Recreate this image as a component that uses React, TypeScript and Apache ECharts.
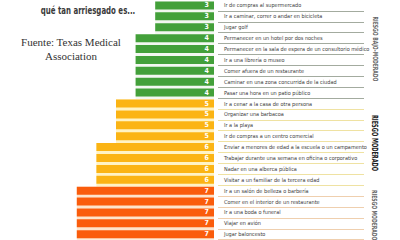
import React, { useEffect, useRef } from "react";
import * as echarts from "echarts";

const categories = [
  "Ir de compras al supermercado",
  "Ir a caminar, correr o andar en bicicleta",
  "Jugar golf",
  "Permanecer en un hotel por dos noches",
  "Permanecer en la sala de espera de un consultorio médico",
  "Ir a una librería o museo",
  "Comer afuera de un restaurante",
  "Caminar en una zona concurrida de la ciudad",
  "Pasar una hora en un patio público",
  "Ir a cenar a la casa de otra persona",
  "Organizar una barbacoa",
  "Ir a la playa",
  "Ir de compras a un centro comercial",
  "Enviar a menores de edad a la escuela o un campamento",
  "Trabajar durante una semana en oficina o corporativo",
  "Nadar en una alberca pública",
  "Visitar a un familiar de la tercera edad",
  "Ir a un salón de belleza o barbería",
  "Comer en el interior de un restaurante",
  "Ir a una boda o funeral",
  "Viajar en avión",
  "Jugar baloncesto",
];

const riskValues = [3, 3, 3, 4, 4, 4, 4, 4, 4, 5, 5, 5, 5, 6, 6, 6, 6, 7, 7, 7, 7, 7];

const bandTitles = ["RIESGO BAJO-MODERADO", "RIESGO MODERADO", "RIESGO MODERADO-ALTO"];

const NARROW = '"Liberation Sans Narrow", "DejaVu Sans Condensed", sans-serif';

function barColor(v: number) {
  if (v <= 4) return "#43a03a";
  if (v <= 6) return "#fbb414";
  return "#fa5c0c";
}
function gapColor(v: number) {
  if (v <= 4) return "#f3f7f1";
  if (v <= 6) return "#fff3c4";
  return "#fde4cc";
}
function lineColor(v: number) {
  if (v <= 4) return "#a3ab9f";
  if (v <= 6) return "#efe2a2";
  return "#efcfae";
}

export default function App() {
  const ref = useRef<HTMLDivElement>(null);
  useEffect(() => {
    if (!ref.current) return;
    const chart = echarts.init(ref.current, undefined, { renderer: "svg" });
    const top = -4.5;
    const height = 244.2;
    const splitColors = ["#ffffff", ...riskValues.map(lineColor)];
    chart.setOption({
      animation: false,
      backgroundColor: "#ffffff",
      grid: [
        { left: 18, width: 196, top, height },
        { left: 218, width: 146, top, height },
      ],
      xAxis: [
        { gridIndex: 0, type: "value", min: 0, max: 10, inverse: true, show: false },
        { gridIndex: 1, type: "value", min: 0, max: 1, show: false },
      ],
      yAxis: [
        {
          gridIndex: 0,
          type: "category",
          data: categories,
          inverse: true,
          show: false,
        },
        {
          gridIndex: 1,
          type: "category",
          data: categories,
          inverse: true,
          axisLine: { show: false },
          axisTick: { show: false },
          axisLabel: {
            inside: true,
            margin: 6,
            fontSize: 5.5,
            fontFamily: NARROW,
            color: "#3d3d3d",
            verticalAlign: "middle",
            padding: [0, 0, 4, 0],
          },
          splitLine: { show: true, lineStyle: { color: splitColors, width: 1 } },
        },
      ],
      series: [
        {
          type: "bar",
          xAxisIndex: 0,
          yAxisIndex: 0,
          silent: true,
          barWidth: "100%",
          data: riskValues.map((v) => ({ value: v, itemStyle: { color: gapColor(v) } })),
        },
        {
          type: "bar",
          xAxisIndex: 0,
          yAxisIndex: 0,
          barWidth: 8,
          barGap: "-100%",
          data: riskValues.map((v) => ({ value: v, itemStyle: { color: barColor(v) } })),
          label: {
            show: true,
            position: "insideRight",
            distance: 5,
            color: "#ffffff",
            fontSize: 7,
            fontWeight: "bold",
            fontFamily: NARROW,
          },
        },
        {
          type: "scatter",
          xAxisIndex: 1,
          yAxisIndex: 1,
          data: [],
        },
      ],
      graphic: [
        {
          type: "text",
          x: 88,
          y: 11,
          scaleX: 0.78,
          style: {
            text: "qué tan arriesgado es...",
            font: `bold 10px ${NARROW}`,
            fill: "#3a3a3a",
            textAlign: "center",
            textVerticalAlign: "middle",
          },
        },
        {
          type: "text",
          x: 71,
          y: 42,
          style: {
            text: "Fuente: Texas Medical",
            font: '11px "Liberation Serif", serif',
            fill: "#333333",
            textAlign: "center",
            textVerticalAlign: "middle",
          },
        },
        {
          type: "text",
          x: 71,
          y: 56,
          style: {
            text: "Association",
            font: '11px "Liberation Serif", serif',
            fill: "#333333",
            textAlign: "center",
            textVerticalAlign: "middle",
          },
        },
        {
          type: "text",
          x: 376,
          y: 49,
          rotation: -Math.PI / 2,
          scaleX: 0.72,
          style: {
            text: bandTitles[0],
            font: `bold 7px ${NARROW}`,
            fill: "#666666",
            textAlign: "center",
            textVerticalAlign: "middle",
          },
        },
        {
          type: "text",
          x: 375,
          y: 143,
          rotation: -Math.PI / 2,
          scaleX: 0.66,
          style: {
            text: bandTitles[1],
            font: `bold 8.5px ${NARROW}`,
            fill: "#222222",
            textAlign: "center",
            textVerticalAlign: "middle",
          },
        },
        {
          type: "text",
          x: 375,
          y: 190,
          rotation: -Math.PI / 2,
          scaleX: 0.72,
          style: {
            text: bandTitles[2],
            font: `bold 7px ${NARROW}`,
            fill: "#666666",
            textAlign: "left",
            textVerticalAlign: "middle",
          },
        },
      ],
    });
    return () => chart.dispose();
  }, []);
  return (
    <div
      ref={ref}
      style={{ position: "fixed", left: 0, top: 0, width: 400, height: 240, background: "#fff" }}
    />
  );
}
